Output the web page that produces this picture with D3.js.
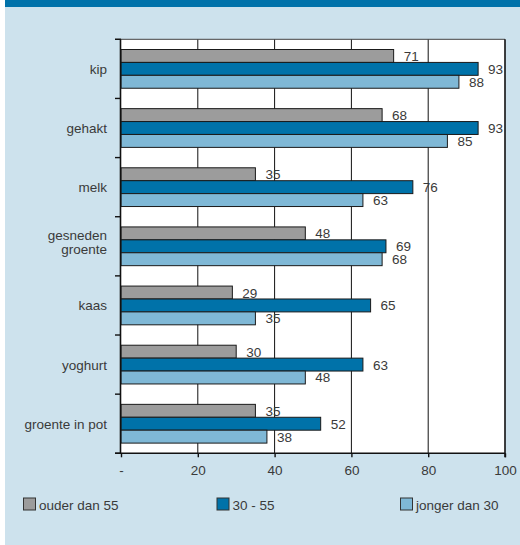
<!DOCTYPE html>
<html>
<head>
<meta charset="utf-8">
<script src="https://cdn.jsdelivr.net/npm/d3@7"></script>
<style>
  html, body { margin: 0; padding: 0; background: #ffffff; }
  svg { display: block; }
  text { font-family: "Liberation Sans", Arial, sans-serif; }
</style>
</head>
<body>
<svg id="chart" width="520" height="545"></svg>
<script>
// ---- data ----
const categories = ["kip", "gehakt", "melk", "gesneden\ngroente", "kaas", "yoghurt", "groente in pot"];
const seriesNames = ["ouder dan 55", "30 - 55", "jonger dan 30"];
const ouderDan55 = [71, 68, 35, 48, 29, 30, 35];
const van30tot55 = [93, 93, 76, 69, 65, 63, 52];
const jongerDan30 = [88, 85, 63, 68, 35, 48, 38];
const xTicks = [0, 20, 40, 60, 80, 100];
const xTickLabels = ["-", "20", "40", "60", "80", "100"];
const colors = ["#9c9c9c", "#0072a9", "#7fb8d6"];

const seriesValues = [ouderDan55, van30tot55, jongerDan30];

// ---- layout ----
const W = 520, H = 545;
const plot = { left: 121, right: 505, top: 39.3, bottom: 453.3 };
const svg = d3.select("#chart");

// background
svg.append("rect").attr("x", 5).attr("y", 0).attr("width", W - 5).attr("height", H).attr("fill", "#cde2ed");
svg.append("rect").attr("x", 5).attr("y", 0).attr("width", W - 5).attr("height", 7).attr("fill", "#0072aa");

const x = d3.scaleLinear().domain([0, 100]).range([plot.left, plot.right]);
const y0 = d3.scaleBand().domain(categories).range([plot.top, plot.bottom]).paddingInner(0).paddingOuter(0);
const y1 = d3.scaleBand().domain(seriesNames).range([0, y0.bandwidth()]).paddingInner(0).paddingOuter(0.79);

// plot area
svg.append("rect")
  .attr("x", plot.left).attr("y", plot.top)
  .attr("width", plot.right - plot.left).attr("height", plot.bottom - plot.top)
  .attr("fill", "#ffffff");

// gridlines
svg.append("g").selectAll("line")
  .data(xTicks.filter(t => t > 0 && t < 100))
  .join("line")
  .attr("x1", d => x(d)).attr("x2", d => x(d))
  .attr("y1", plot.top).attr("y2", plot.bottom)
  .attr("stroke", "#111").attr("stroke-width", 1);

// value labels (under bars/lines so lines cross them like the reference)
const rows = [];
categories.forEach((c, i) => {
  seriesNames.forEach((s, j) => rows.push({ cat: c, ser: s, j: j, v: seriesValues[j][i] }));
});

svg.append("g").selectAll("text")
  .data(rows)
  .join("text")
  .attr("x", d => x(d.v) + 10)
  .attr("y", d => y0(d.cat) + y1(d.ser) + y1.bandwidth() / 2 + 0.5)
  .attr("dominant-baseline", "central")
  .attr("font-size", 13.5)
  .attr("fill", "#3a3a3a")
  .text(d => d.v);

// bars
svg.append("g").selectAll("rect")
  .data(rows)
  .join("rect")
  .attr("x", x(0))
  .attr("y", d => y0(d.cat) + y1(d.ser))
  .attr("width", d => x(d.v) - x(0))
  .attr("height", y1.bandwidth())
  .attr("fill", d => colors[d.j])
  .attr("stroke", "#1a1a1a")
  .attr("stroke-width", 1);

// top border
svg.append("line")
  .attr("x1", plot.left - 6).attr("x2", plot.right)
  .attr("y1", plot.top).attr("y2", plot.top)
  .attr("stroke", "#444").attr("stroke-width", 1);

// right border
svg.append("line")
  .attr("x1", plot.right).attr("x2", plot.right)
  .attr("y1", plot.top).attr("y2", plot.bottom + 4)
  .attr("stroke", "#111").attr("stroke-width", 1.6);

// left axis line + category boundary ticks
svg.append("line")
  .attr("x1", plot.left - 0.5).attr("x2", plot.left - 0.5)
  .attr("y1", plot.top).attr("y2", plot.bottom)
  .attr("stroke", "#111").attr("stroke-width", 1.6);

const boundaries = categories.map(c => y0(c)).concat([y0.range()[1]]);
svg.append("g").selectAll("line")
  .data(boundaries)
  .join("line")
  .attr("x1", plot.left - 6).attr("x2", plot.left)
  .attr("y1", d => d).attr("y2", d => d)
  .attr("stroke", "#111").attr("stroke-width", 1.4);

// category labels
const catG = svg.append("g").selectAll("text")
  .data(categories)
  .join("text")
  .attr("text-anchor", "end")
  .attr("font-size", 13.5)
  .attr("fill", "#3a3a3a")
  .attr("x", 107)
  .attr("y", d => y0(d) + y0.bandwidth() / 2)
  .attr("dominant-baseline", "central");

catG.each(function (d) {
  const lines = d.split("\n");
  const t = d3.select(this);
  const lh = 14.3;
  const start = lines.length > 1 ? -11.3 : 0;
  lines.forEach((ln, k) => {
    t.append("tspan")
      .attr("x", 107)
      .attr("dy", k === 0 ? start : lh)
      .text(ln);
  });
});

// bottom axis
const xAxis = d3.axisBottom(x)
  .tickValues(xTicks)
  .tickFormat((d, i) => xTickLabels[i])
  .tickSizeInner(4)
  .tickSizeOuter(0)
  .tickPadding(8);

const gx = svg.append("g")
  .attr("transform", `translate(0,${plot.bottom})`)
  .call(xAxis);
gx.select(".domain").remove();
gx.selectAll(".tick line").attr("stroke", "#111").attr("stroke-width", 1.4);
gx.selectAll(".tick text")
  .attr("font-size", 13.5)
  .attr("fill", "#3a3a3a")
  .style("font-family", '"Liberation Sans", Arial, sans-serif');
svg.append("line")
  .attr("x1", plot.left - 6).attr("x2", plot.right)
  .attr("y1", plot.bottom).attr("y2", plot.bottom)
  .attr("stroke", "#111").attr("stroke-width", 1.6);

// legend
const legendX = [23.5, 217, 400.5];
const legend = svg.append("g").selectAll("g")
  .data(seriesNames)
  .join("g")
  .attr("transform", (d, i) => `translate(${legendX[i]},498)`);
legend.append("rect")
  .attr("width", 12).attr("height", 12)
  .attr("fill", (d, i) => colors[i])
  .attr("stroke", "#333").attr("stroke-width", 1);
legend.append("text")
  .attr("x", 15.5).attr("y", 7)
  .attr("dominant-baseline", "central")
  .attr("font-size", 13.5)
  .attr("fill", "#3a3a3a")
  .text(d => d);
</script>
</body>
</html>
